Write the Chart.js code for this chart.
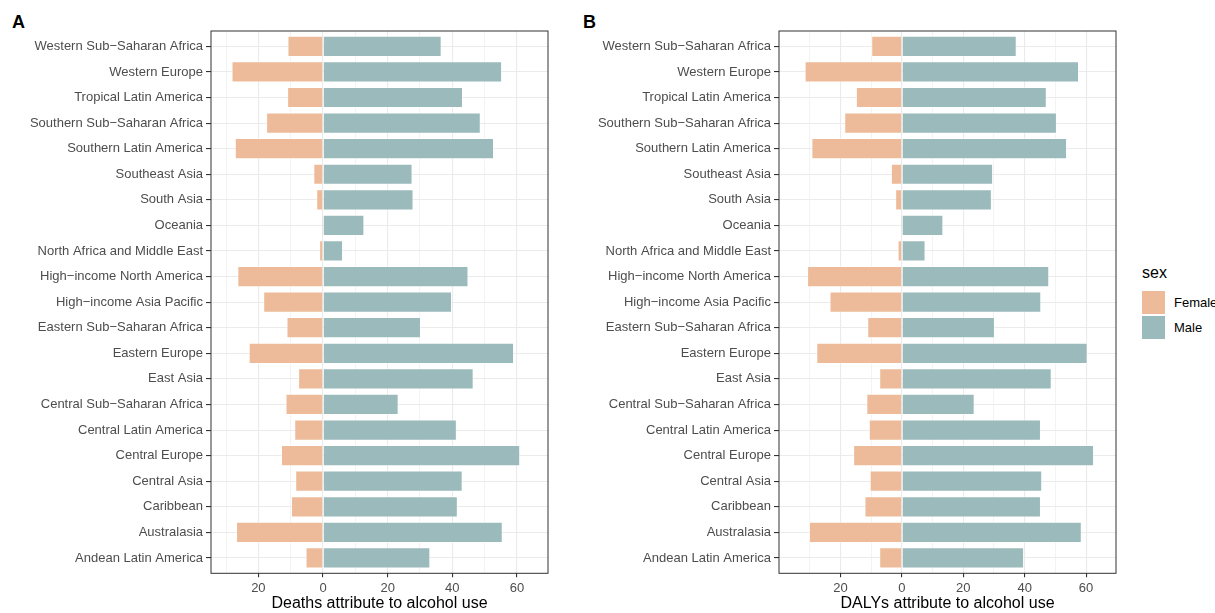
<!DOCTYPE html>
<html>
<head>
<meta charset="utf-8">
<script src="https://cdn.jsdelivr.net/npm/chart.js@4"></script>
<style>
    body { margin: 0; width: 1215px; height: 613px; overflow: hidden; background: #fff; font-family: "Liberation Sans", Arial, sans-serif; }
    canvas { position: absolute; top: 0; }
    .tag { position: absolute; top: 12px; font-size: 18px; font-weight: bold; color: #000; }
    .legend { position: absolute; left: 1142px; top: 264px; white-space: nowrap; }
    .legend .ttl { font-size: 16px; color: #000; height: 26px; }
    .legend .row { display: flex; align-items: center; height: 25px; font-size: 13px; color: #000; }
    .legend .key { width: 23px; height: 23px; margin-right: 9px; }
</style>
</head>
<body>
<div class="tag" style="left:12px">A</div>
<div class="tag" style="left:583px">B</div>
<canvas id="deathsChart" width="560" height="613" style="left:0"></canvas>
<canvas id="dalysChart" width="570" height="613" style="left:560px"></canvas>
<div class="legend" id="legend"></div>

<script>
// regions top to bottom, as in the figure
const regions = ['Western Sub−Saharan Africa', 'Western Europe', 'Tropical Latin America',
    'Southern Sub−Saharan Africa', 'Southern Latin America', 'Southeast Asia', 'South Asia',
    'Oceania', 'North Africa and Middle East', 'High−income North America',
    'High−income Asia Pacific', 'Eastern Sub−Saharan Africa', 'Eastern Europe', 'East Asia',
    'Central Sub−Saharan Africa', 'Central Latin America', 'Central Europe', 'Central Asia',
    'Caribbean', 'Australasia', 'Andean Latin America'];

const sexes = ['Female', 'Male'];
const sexColors = ['#EDBB99', '#9ABABB'];

// panel A - deaths (female shown to the left of zero)
const deathsFemale = [11.0, 28.3, 11.1, 17.6, 27.3, 3.0, 2.1, 0.4, 1.2, 26.5, 18.5,
    11.3, 23.0, 7.7, 11.6, 8.9, 13.0, 8.6, 9.9, 26.9, 5.4];
const deathsMale = [36.7, 55.4, 43.3, 48.8, 52.9, 27.7, 28.0, 12.8, 6.2, 45.0, 39.9,
    30.3, 59.1, 46.6, 23.4, 41.4, 61.0, 43.2, 41.7, 55.6, 33.2];

// panel B - DALYs
const dalysFemale = [10.0, 31.7, 15.0, 18.8, 29.5, 3.6, 2.2, 0.4, 1.4, 30.9, 23.6,
    11.3, 27.9, 7.4, 11.6, 10.8, 15.9, 10.5, 12.2, 30.3, 7.4];
const dalysMale = [37.4, 57.7, 47.2, 50.5, 53.8, 29.7, 29.3, 13.5, 7.7, 48.0, 45.4,
    30.3, 60.5, 48.8, 23.7, 45.3, 62.6, 45.7, 45.3, 58.6, 39.8];

const xTicks = [-30, -20, -10, 0, 10, 20, 30, 40, 50, 60];
const deathsRange = [-34.65, 69.6];
const dalysRange = [-40.05, 69.75];

const panelFrame = {
    id: 'panelFrame',
    afterDraw(chart) {
        const { ctx, chartArea: a } = chart;
        ctx.save();
        ctx.strokeStyle = '#333333';
        ctx.lineWidth = 1;
        ctx.strokeRect(a.left, a.top, a.right - a.left, a.bottom - a.top);
        ctx.restore();
    }
};

function makePanel(id, female, male, range, axisTitle, yWidth, padRight) {
    const ctx = document.getElementById(id).getContext('2d');
    const isMajor = v => v % 20 === 0;
    return new Chart(ctx, {
        type: 'bar',
        data: {
            datasets: [
                { label: sexes[0], data: female.map((v, i) => ({ x: -v, y: i })), backgroundColor: sexColors[0] },
                { label: sexes[1], data: male.map((v, i) => ({ x: v, y: i })), backgroundColor: sexColors[1] }
            ]
        },
        options: {
            indexAxis: 'y',
            responsive: false,
            animation: false,
            devicePixelRatio: 1,
            layout: { padding: { top: 31, right: padRight, left: 0, bottom: 0 } },
            datasets: {
                bar: {
                    categoryPercentage: 1,
                    barPercentage: 0.83,
                    borderColor: 'rgba(255,255,255,0.45)',
                    borderWidth: 1,
                    borderSkipped: 'start'
                }
            },
            plugins: { legend: { display: false }, tooltip: { enabled: false } },
            scales: {
                x: {
                    type: 'linear',
                    stacked: true,
                    min: range[0],
                    max: range[1],
                    afterBuildTicks: s => { s.ticks = xTicks.map(v => ({ value: v })); },
                    afterFit: s => { s.height = 39.7; },
                    border: { display: false },
                    grid: {
                        color: '#EBEBEB',
                        lineWidth: c => isMajor(c.tick.value) ? 1.1 : 0.6,
                        tickColor: c => isMajor(c.tick.value) ? '#333333' : 'rgba(0,0,0,0)',
                        tickLength: 4
                    },
                    ticks: {
                        padding: 3,
                        color: '#4D4D4D',
                        font: { family: 'Liberation Sans', size: 13 },
                        maxRotation: 0,
                        autoSkip: false,
                        callback: v => isMajor(v) ? String(Math.abs(v)) : ''
                    },
                    title: {
                        display: true,
                        text: axisTitle,
                        color: '#000000',
                        font: { family: 'Liberation Sans', size: 16 },
                        padding: 0
                    }
                },
                y: {
                    type: 'linear',
                    stacked: true,
                    reverse: true,
                    offset: false,
                    min: -0.6,
                    max: regions.length - 0.4,
                    afterBuildTicks: s => { s.ticks = regions.map((r, i) => ({ value: i })); },
                    afterFit: s => { s.width = yWidth; },
                    border: { display: false },
                    grid: {
                        offset: false,
                        color: '#EBEBEB',
                        lineWidth: 1.1,
                        tickColor: '#333333',
                        tickLength: 5
                    },
                    ticks: {
                        padding: 3,
                        color: '#4D4D4D',
                        font: { family: 'Liberation Sans', size: 13 },
                        autoSkip: false,
                        callback: v => regions[v]
                    }
                }
            }
        },
        plugins: [panelFrame]
    });
}

makePanel('deathsChart', deathsFemale, deathsMale, deathsRange, 'Deaths attribute to alcohol use', 211, 12);
makePanel('dalysChart', dalysFemale, dalysMale, dalysRange, 'DALYs attribute to alcohol use', 219, 14);

document.getElementById('legend').innerHTML = '<div class="ttl">sex</div>' +
    sexes.map((s, i) => `<div class="row"><div class="key" style="background:${sexColors[i]}"></div>${s}</div>`).join('');
</script>
</body>
</html>
